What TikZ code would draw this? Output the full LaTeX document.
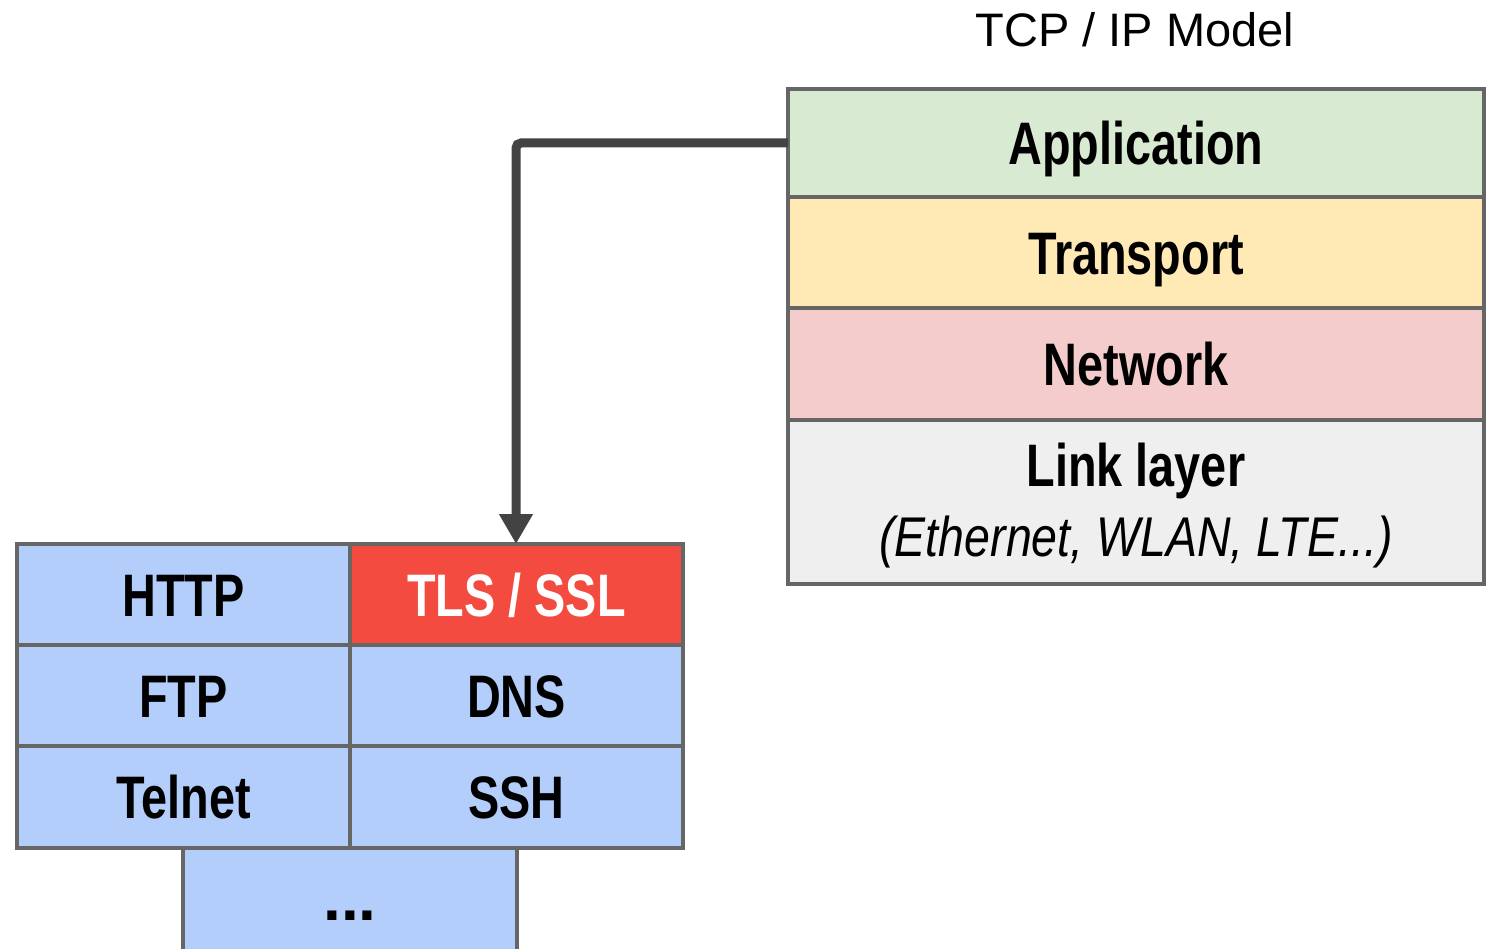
\documentclass[tikz,border=0pt]{standalone}
\usepackage{fontspec}
\setmainfont{Liberation Sans}
\newfontfamily\condbold[FakeStretch=0.78]{Liberation Sans Bold}
\newfontfamily\plainbold{Liberation Sans Bold}
\newfontfamily\conditalic[FakeStretch=0.83]{Liberation Sans Italic}
\usetikzlibrary{arrows.meta}
\definecolor{bordergray}{HTML}{666666}
\definecolor{arrowgray}{HTML}{434343}
\definecolor{appgreen}{HTML}{D9EAD3}
\definecolor{transyellow}{HTML}{FFE9B5}
\definecolor{netpink}{HTML}{F4CCCC}
\definecolor{linkgray}{HTML}{EFEFEF}
\definecolor{protoblue}{HTML}{B4CEFC}
\definecolor{tlsred}{HTML}{F44B41}
\begin{document}
\begin{tikzpicture}[x=1pt,y=-1pt,
  layerbox/.style={draw=bordergray, line width=3.5pt, inner sep=0pt, outer sep=0pt},
  lbl/.style={anchor=base, inner sep=0pt, font=\condbold\fontsize{60}{66}\selectfont},
  sublbl/.style={anchor=base, inner sep=0pt, font=\conditalic\fontsize{56}{62}\selectfont},
  conn/.style={draw=arrowgray, line width=9pt, rounded corners=5pt, -{Triangle[length=30pt,width=32pt]}}
]
\useasboundingbox (0,0) rectangle (1494,949);
% title
\node[anchor=base, inner sep=0pt, font=\fontsize{47}{52}\selectfont] (title) at (1135,47) {TCP / IP Model};
% right stack
\path[layerbox, fill=appgreen] (788,89) rectangle (1484,197);
\path[layerbox, fill=transyellow] (788,197) rectangle (1484,308);
\path[layerbox, fill=netpink] (788,308) rectangle (1484,420);
\path[layerbox, fill=linkgray] (788,420) rectangle (1484,584);
\coordinate (app) at (788,143);
\node[lbl] (applbl) at (1136,165) {Application};
\node[lbl] (translbl) at (1136,275) {Transport};
\node[lbl] (netlbl) at (1136,386) {Network};
\node[lbl] (linklbl) at (1136,486) {Link layer};
\node[sublbl] (linksub) at (1136,556) {(Ethernet, WLAN, LTE...)};
% left grid
\path[layerbox, fill=protoblue] (17,544) rectangle (350,645);
\path[layerbox, fill=tlsred] (350,544) rectangle (683,645);
\path[layerbox, fill=protoblue] (17,645) rectangle (350,746);
\path[layerbox, fill=protoblue] (350,645) rectangle (683,746);
\path[layerbox, fill=protoblue] (17,746) rectangle (350,848);
\path[layerbox, fill=protoblue] (350,746) rectangle (683,848);
\path[layerbox, fill=protoblue] (183,848) rectangle (517,951);
\coordinate (tls) at (516,544);
\node[lbl] (http) at (183.5,616) {HTTP};
\node[lbl, text=white] (tlslbl) at (516.5,616) {TLS / SSL};
\node[lbl] (ftp) at (183.5,717) {FTP};
\node[lbl] (dns) at (516.5,717) {DNS};
\node[lbl] (telnet) at (183.5,818) {Telnet};
\node[lbl] (ssh) at (516.5,818) {SSH};
\node[anchor=base, inner sep=0pt, font=\plainbold\fontsize{64}{70}\selectfont] (more) at (350,920) {...};
% connector
\draw[conn] (app) -| (tls);
\end{tikzpicture}
\end{document}
